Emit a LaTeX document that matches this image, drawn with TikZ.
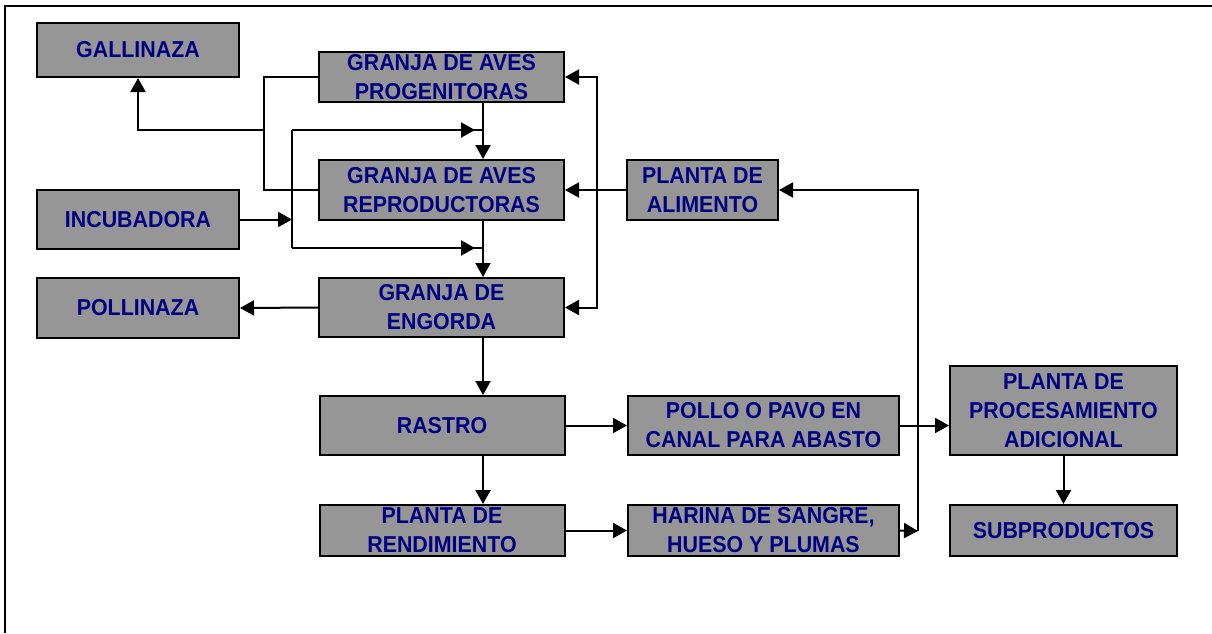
\documentclass[tikz,border=0pt]{standalone}
\usepackage{fontspec}
\setmainfont{Liberation Sans}
\newfontfamily\boxfont[FakeStretch=0.93]{Liberation Sans}
\usetikzlibrary{arrows.meta}
\definecolor{boxgray}{HTML}{969696}
\definecolor{navytext}{HTML}{000080}
\begin{document}
\begin{tikzpicture}[x=1pt,y=-1pt,
  box/.style={draw=black, line width=2pt, fill=boxgray, inner sep=0pt, align=center,
    text=navytext, font=\boxfont\bfseries\fontsize{23}{29}\selectfont},
  conn/.style={line width=2pt},
  arr/.style={conn, -{Triangle[length=14pt,width=15pt]}}]
\useasboundingbox (0,0) rectangle (1212,633);
\draw[line width=2.5pt] (5,633) -- (5,6) -- (1212,6);

% left column
\node[box, minimum width=202pt, minimum height=54pt] (gal) at (138,50) {GALLINAZA};
\node[box, minimum width=202pt, minimum height=59pt] (inc) at (138,219.5) {INCUBADORA};
\node[box, minimum width=202pt, minimum height=60pt] (pln) at (138,308) {POLLINAZA};
% centre column
\node[box, minimum width=245pt, minimum height=50pt] (prog) at (441.5,77) {GRANJA DE AVES\\PROGENITORAS};
\node[box, minimum width=245pt, minimum height=60pt] (rep) at (441.5,190) {GRANJA DE AVES\\REPRODUCTORAS};
\node[box, minimum width=245pt, minimum height=59pt] (eng) at (441.5,307.5) {GRANJA DE\\ENGORDA};
\node[box, minimum width=245pt, minimum height=59pt] (ras) at (442,425.5) {RASTRO};
\node[box, minimum width=245pt, minimum height=51pt] (ren) at (442,530.5) {PLANTA DE\\RENDIMIENTO};
% right columns
\node[box, minimum width=151pt, minimum height=60pt] (ali) at (702.5,190) {PLANTA DE\\ALIMENTO};
\node[box, minimum width=271pt, minimum height=59pt] (pol) at (763.5,425.5) {POLLO O PAVO EN\\CANAL PARA ABASTO};
\node[box, minimum width=271pt, minimum height=51pt] (har) at (763.5,530.5) {HARINA DE SANGRE,\\HUESO Y PLUMAS};
\node[box, minimum width=227pt, minimum height=89pt] (proc) at (1063.5,410.5) {PLANTA DE\\PROCESAMIENTO\\ADICIONAL};
\node[box, minimum width=227pt, minimum height=51pt] (sub) at (1063.5,530.5) {SUBPRODUCTOS};

% helper coordinates
\coordinate (lx) at (264,130);
\coordinate (ixt) at (292,130);
\coordinate (ixb) at (292,248);
\coordinate (mx) at (483,0);
\coordinate (fx) at (597,190);
\coordinate (rx) at (918,531);

% gallinaza collection
\draw[conn] (prog.west) -| (lx) |- (rep.west);
\draw[arr] (lx) -| (gal.south);

% incubadora
\draw[arr] (inc.east) -- (inc.east -| ixt);
\draw[conn] (ixt) -- (ixb);
\draw[conn] (ixt) -- (ixt -| mx);
\draw[arr, shorten >=8pt] (ixt) -- (ixt -| mx);
\draw[conn] (ixb) -- (ixb -| mx);
\draw[arr, shorten >=8pt] (ixb) -- (ixb -| mx);

% main vertical flow
\draw[arr] (prog.south -| mx) -- (rep.north -| mx);
\draw[arr] (rep.south -| mx) -- (eng.north -| mx);
\draw[arr] (eng.south -| mx) -- (ras.north -| mx);
\draw[arr] (ras.south -| mx) -- (ren.north -| mx);

% feed
\draw[arr] (ali.west) -- (rep.east);
\draw[arr] (fx) |- (prog.east);
\draw[arr] (fx) |- (eng.east);

% pollinaza
\draw[arr] (eng.west) -- (pln.east);

% processing
\draw[arr] (ras.east) -- (pol.west);
\draw[arr] (ren.east) -- (har.west);
\draw[arr] (pol.east) -- (pol.east -| proc.west);
\draw[arr] (proc.south) -- (sub.north);
\draw[arr] (har.east) -- (rx);
\draw[arr] (rx) |- (ali.east);
\end{tikzpicture}
\end{document}
